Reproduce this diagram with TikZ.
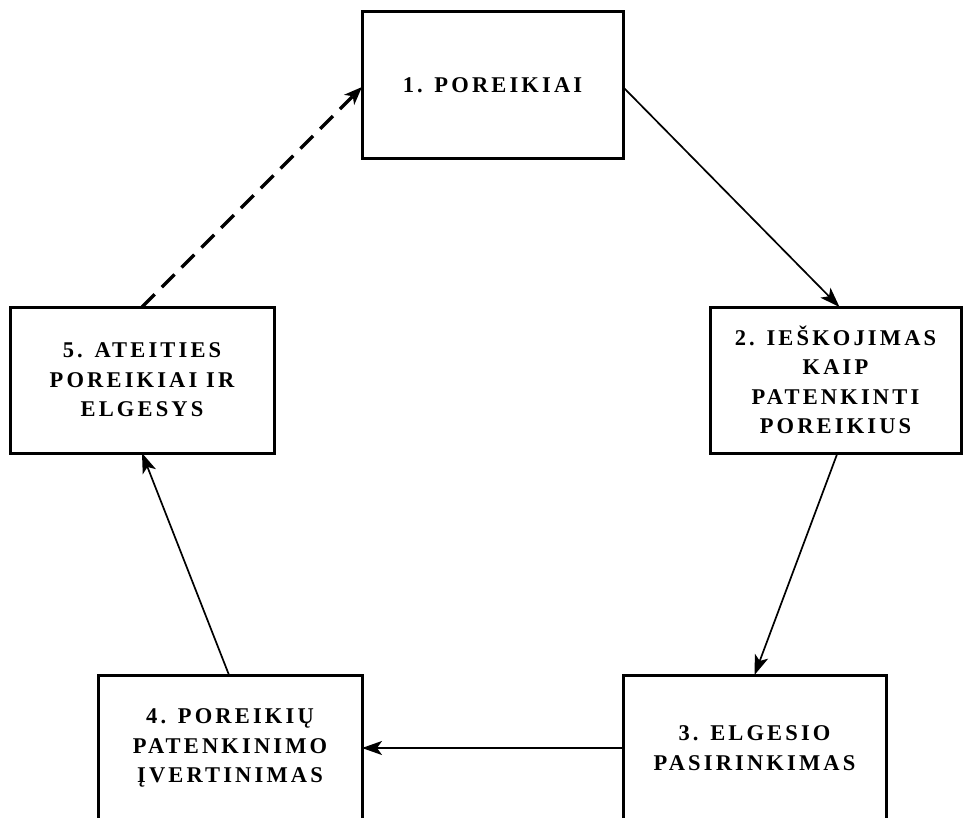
\documentclass[tikz,border=0pt]{standalone}
\usepackage{fontspec}
\newfontfamily\boxfont{Liberation Serif}[LetterSpace=14]
\usetikzlibrary{arrows.meta}

\tikzset{
  stage/.style={draw, line width=3pt, inner sep=0pt, outer sep=0pt,
    align=center, fill=white,
    font=\boxfont\bfseries\fontsize{22.5}{29.5}\selectfont},
  flow/.style={line width=1.7pt, -{Stealth[length=20pt,width=14pt,inset=5pt]}},
  feedback/.style={line width=3.2pt, dash pattern=on 18pt off 10pt,
    -{Stealth[length=18pt,width=14pt,inset=5pt]}}
}

\begin{document}
\begin{tikzpicture}[x=1pt, y=-1pt]
  \useasboundingbox (0,0) rectangle (963,818);
  \clip (0,0) rectangle (963,818);

  % the five stages of the cycle
  \node[stage, minimum width=261pt, minimum height=147pt] (b1) at (492.5,85.5)
    {1. POREIKIAI};
  \node[stage, minimum width=251pt, minimum height=146pt] (b2) at (835.5,380)
    {2. IEŠKOJIMAS\\KAIP\\PATENKINTI\\POREIKIUS};
  \node[stage, minimum width=263pt, minimum height=146pt] (b3) at (754.5,748)
    {3. ELGESIO\\PASIRINKIMAS};
  \node[stage, minimum width=264pt, minimum height=146pt] (b4) at (230,748)
    {4. POREIKIŲ\\PATENKINIMO\\ĮVERTINIMAS};
  \node[stage, minimum width=264pt, minimum height=146pt] (b5) at (142,380)
    {5. ATEITIES\\POREIKIAI IR\\ELGESYS};

  % connectors between the stages
  \draw[flow] ([yshift=-1.5pt]b1.east) -- ([xshift=4pt]b2.north);
  \draw[flow] ([xshift=2pt]b2.south) -- (b3.north);
  \draw[flow] (b3.west) -- (b4.east);
  \draw[flow] ([xshift=-1pt]b4.north) -- (b5.south);
  \draw[feedback] (b5.north) -- ([yshift=-1.5pt]b1.west);
\end{tikzpicture}
\end{document}
